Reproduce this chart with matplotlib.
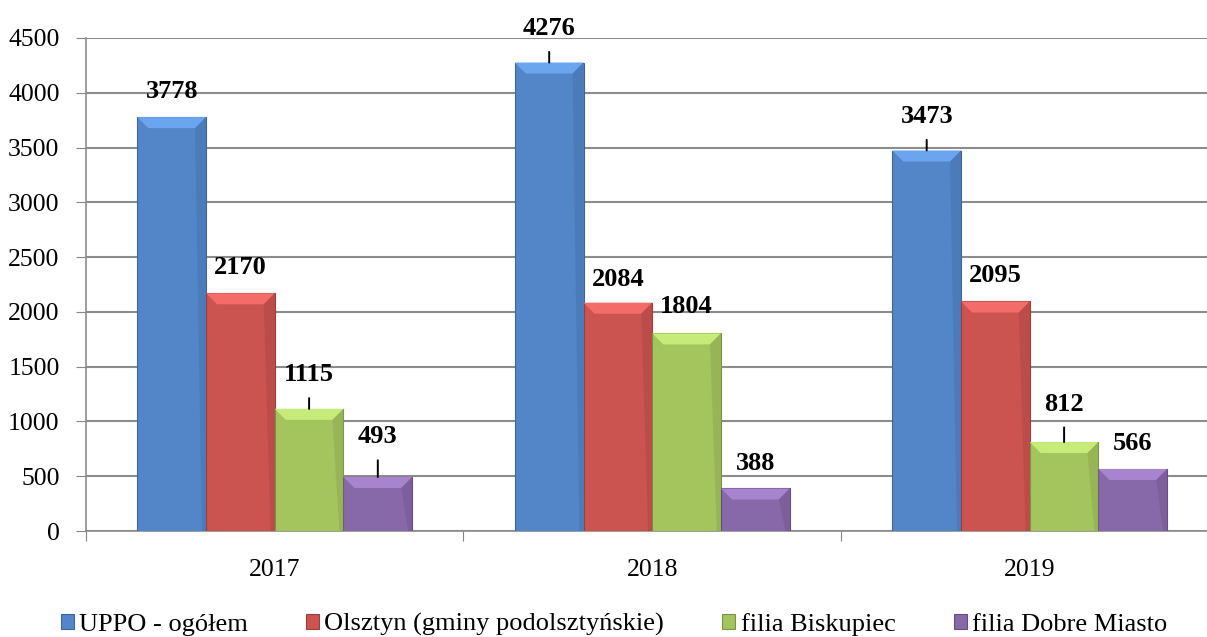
import numpy as np
import matplotlib.pyplot as plt
from matplotlib.patches import Polygon
import matplotlib.colors as mcolors

plt.rcParams['font.family'] = ['Liberation Serif', 'DejaVu Serif']

years = ['2017', '2018', '2019']
series = ['UPPO - ogółem', 'Olsztyn (gminy podolsztyńskie)',
          'filia Biskupiec', 'filia Dobre Miasto']
uppo = [3778, 4276, 3473]
olsztyn = [2170, 2084, 2095]
biskupiec = [1115, 1804, 812]
dobre_miasto = [493, 388, 566]

colors = ['#5286C8', '#CB5350', '#A4C45E', '#8768A9']
# label offset above bar top (pixels), per series per year
label_off = [[26, 34, 34], [26, 23, 26], [34, 27, 38], [40, 25, 25]]
leader = [[False, True, True], [False, False, False],
          [True, False, True], [True, False, False]]

fig = plt.figure(figsize=(12.07, 6.37), dpi=100)
ax = fig.add_axes([86 / 1207, 106 / 637, 1132.5 / 1207, 493 / 637])

x = np.arange(len(years))
w = 0.182
values = [uppo, olsztyn, biskupiec, dobre_miasto]

for i, (name, vals) in enumerate(zip(series, values)):
    pos = x + (i - 1.5) * w
    base = np.array(mcolors.to_rgb(colors[i]))
    bars = ax.bar(pos, vals, w, color=colors[i], label=name, zorder=3,
                  edgecolor=mcolors.to_hex(base * 0.75), linewidth=0.8)
    light = np.clip(base * 1.12 + 0.06, 0, 1)
    dark = base * 0.85
    for b in bars:
        bx, bw, bh = b.get_x(), b.get_width(), b.get_height()
        dy = 11 * 4500 / 493
        dx = bw * 0.16
        top = Polygon([(bx, bh), (bx + bw, bh), (bx + bw - dx, bh - dy),
                       (bx + dx, bh - dy)], closed=True, facecolor=light,
                      edgecolor='none', zorder=4)
        ax.add_patch(top)
        side_r = Polygon([(bx + bw, bh), (bx + bw, 0), (bx + bw - bw * 0.06, 0),
                          (bx + bw - dx, bh - dy)], closed=True,
                         facecolor=dark, edgecolor='none', zorder=4, alpha=0.5)
        ax.add_patch(side_r)
    for j, b in enumerate(bars):
        off = label_off[i][j]
        kw = {}
        if leader[i][j]:
            kw['arrowprops'] = dict(arrowstyle='-', color='black', lw=1.4,
                                    shrinkA=6.5, shrinkB=0)
        ax.annotate(str(vals[j]), xy=(b.get_x() + b.get_width() / 2, vals[j]),
                    xytext=(0, off), textcoords='offset pixels',
                    ha='center', va='center', fontsize=19, fontweight='bold',
                    zorder=6, **kw)

ax.set_ylim(0, 4500)
ax.set_yticks(np.arange(0, 4501, 500))
ax.set_xlim(-0.5, 2.5)
ax.set_xticks(np.arange(-0.5, 3, 1))
ax.set_xticklabels([])
ax.set_xticks(x, minor=True)
ax.set_xticklabels(years, minor=True)
ax.tick_params(axis='x', which='minor', length=0, pad=20, labelsize=18.5)
ax.tick_params(axis='x', which='major', length=7, color='#868686', direction='out')
ax.tick_params(axis='y', length=7, color='#868686', pad=12, labelsize=18.5)

ax.grid(axis='y', color='#8C8C8C', lw=1.5, zorder=0)
for s in ['top', 'right']:
    ax.spines[s].set_visible(False)
for s in ['left', 'bottom']:
    ax.spines[s].set_color('#8C8C8C')
    ax.spines[s].set_linewidth(1.2)

fig.legend(loc='center', bbox_to_anchor=(614 / 1207, 0.02), ncol=4,
           frameon=False, fontsize=19, handlelength=0.5, handleheight=0.5,
           handletextpad=0.2, columnspacing=2.2)

fig.savefig('out.png', dpi=100)
